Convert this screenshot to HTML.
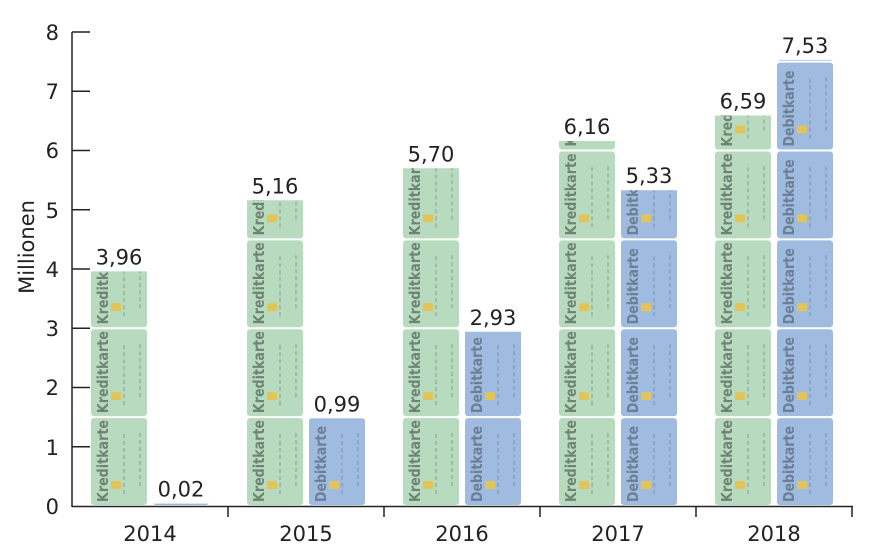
<!DOCTYPE html>
<html><head><meta charset="utf-8"><style>
body{margin:0;background:#fff;}
svg{display:block;font-family:"DejaVu Sans","Liberation Sans",sans-serif;}
</style></head><body>
<svg id="s" width="873" height="557" viewBox="0 0 873 557" xmlns="http://www.w3.org/2000/svg">
<g stroke="#222" stroke-width="1.5" fill="none">
<line x1="72" y1="32" x2="72" y2="507"/>
<line x1="72" y1="506.5" x2="853" y2="506.5"/>
<line x1="72" y1="32" x2="90" y2="32"/><line x1="72" y1="91.3" x2="90" y2="91.3"/>
<line x1="72" y1="150.5" x2="90" y2="150.5"/><line x1="72" y1="209.8" x2="90" y2="209.8"/>
<line x1="72" y1="269" x2="90" y2="269"/><line x1="72" y1="328.3" x2="90" y2="328.3"/>
<line x1="72" y1="387.5" x2="90" y2="387.5"/><line x1="72" y1="446.8" x2="90" y2="446.8"/>
<line x1="228" y1="506" x2="228" y2="517"/><line x1="384" y1="506" x2="384" y2="517"/>
<line x1="540" y1="506" x2="540" y2="517"/><line x1="696" y1="506" x2="696" y2="517"/>
<line x1="852" y1="506" x2="852" y2="517"/>
</g>
<g font-size="21" fill="#222" text-anchor="end">
<text x="59" y="40">8</text><text x="59" y="99">7</text><text x="59" y="158">6</text>
<text x="59" y="218">5</text><text x="59" y="277">4</text><text x="59" y="336">3</text>
<text x="59" y="395">2</text><text x="59" y="455">1</text><text x="59" y="514">0</text>
</g>
<text transform="translate(34,247) rotate(-90)" font-size="21" fill="#222" text-anchor="middle">Millionen</text>
<g font-size="21" fill="#222" text-anchor="middle">
<text x="150" y="541">2014</text><text x="306" y="541">2015</text><text x="462" y="541">2016</text>
<text x="618" y="541">2017</text><text x="774" y="541">2018</text>
</g>
<g id="bars"></g>
</svg>
<script>
var y0=506,u=59.25,g=document.getElementById('bars'),html='';
var data=[[91,3.96],[153,0.04],[247,5.16],[309,1.48],[403,5.70],[465,2.94],[559,6.16],[621,5.33],[715,6.59],[777,7.53]];
var labels=['3,96','0,02','5,16','0,99','5,70','2,93','6,16','5,33','6,59','7,53'];
data.forEach(function(d,i){
 var x=d[0],v=d[1],w=56,deb=i%2==1,top=y0-v*u;
 var fill=deb?'#9fbbdf':'#b8dbbf',tc=deb?'#6e7f95':'#6f8373',word=deb?'Debitkarte':'Kreditkarte';
 html+='<clipPath id="c'+i+'"><rect x="'+x+'" y="'+top+'" width="'+w+'" height="'+(y0-top)+'"/></clipPath><g clip-path="url(#c'+i+')">';
 for(var k=0;k*1.5<v;k++){
  var b=y0-k*1.5*u,t=b-1.5*u+1;
  html+='<rect x="'+x+'" y="'+t+'" width="'+w+'" height="'+(b-t-1)+'" rx="3" fill="'+fill+'"/>';
  html+='<text transform="translate('+(x+17)+','+(b-4)+') rotate(-90)" font-size="15" font-weight="bold" fill="'+tc+'" textLength="'+(deb?76:82)+'" lengthAdjust="spacingAndGlyphs">'+word+'</text>';
  html+='<rect x="'+(x+20)+'" y="'+(b-25)+'" width="10" height="8" fill="#e2c55a"/>';
  html+='<g stroke="'+tc+'" stroke-width="2" opacity="0.35" stroke-dasharray="4 3"><line x1="'+(x+33)+'" y1="'+(b-12)+'" x2="'+(x+33)+'" y2="'+(b-75)+'"/><line x1="'+(x+49)+'" y1="'+(b-20)+'" x2="'+(x+49)+'" y2="'+(b-75)+'"/></g>';
 }
 html+='</g>';
 html+='<text x="'+(x+w/2)+'" y="'+(top-7)+'" font-size="21" fill="#222" text-anchor="middle">'+labels[i]+'</text>';
});
g.innerHTML=html;
</script>
</body></html>
